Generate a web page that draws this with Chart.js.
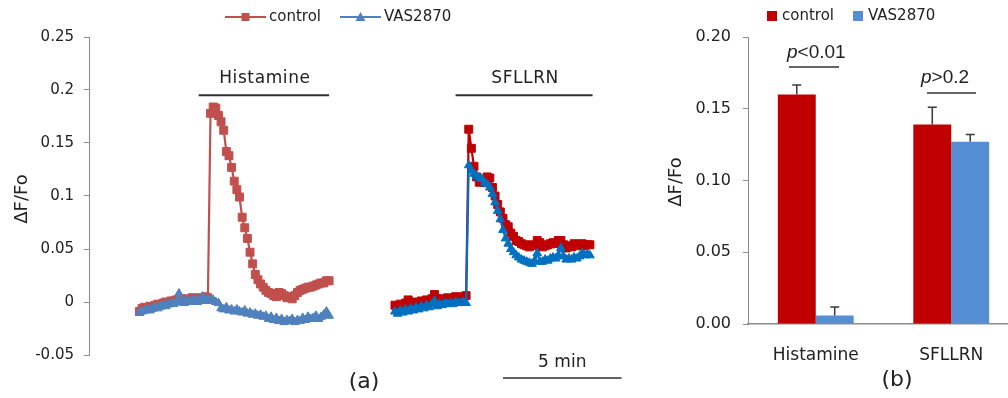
<!DOCTYPE html>
<html><head><meta charset="utf-8">
<script src="https://cdn.jsdelivr.net/npm/chart.js@4.4.1/dist/chart.umd.min.js"></script>
<style>
html,body{margin:0;padding:0;background:#fff;overflow:hidden;width:1008px;height:398px;}
#wrapA{position:absolute;left:0;top:0;width:640px;height:398px;}
#wrapB{position:absolute;left:640px;top:0;width:368px;height:398px;overflow:hidden;}
canvas{display:block;}
</style></head><body>
<div id="wrapA"><canvas id="cA" width="640" height="398"></canvas></div>
<div id="wrapB"><canvas id="cB" width="379" height="398"></canvas></div>
<script>
// ---------- DATA ----------
const seriesNames = ['control', 'VAS2870'];
// panel (a): ΔF/Fo traces, one sample per frame
const histStartFrame = 0;
const sflStartFrame = 97;
const histCtrl = [-0.009,-0.006,-0.005,-0.006,-0.004,-0.005,-0.003,-0.002,-0.003,-0.001,
 0.000,-0.001,0.001,0.001,0.002,0.001,0.003,0.002,0.003,0.002,
 0.004,0.003,0.003,0.004,0.003,0.005,0.004,0.178,0.184,0.183,
 0.176,0.170,0.162,0.142,0.138,0.127,0.114,0.106,0.099,0.080,
 0.070,0.060,0.047,0.036,0.026,0.021,0.017,0.014,0.011,0.009,
 0.008,0.006,0.005,0.009,0.008,0.006,0.004,0.005,0.003,0.006,
 0.009,0.011,0.012,0.013,0.014,0.014,0.015,0.016,0.017,0.018,
 0.018,0.020,0.020];
const histVas = [-0.010,-0.009,-0.008,-0.007,-0.008,-0.006,-0.005,-0.006,-0.004,-0.003,
 -0.004,-0.002,-0.001,-0.002,0.000,0.008,0.001,-0.001,0.002,0.000,
 0.001,0.003,0.000,0.002,0.005,0.001,0.003,0.001,0.002,0.000,
 -0.001,-0.006,-0.007,-0.005,-0.008,-0.007,-0.009,-0.007,-0.009,-0.010,
 -0.008,-0.011,-0.010,-0.012,-0.011,-0.013,-0.012,-0.014,-0.013,-0.016,
 -0.014,-0.017,-0.015,-0.018,-0.016,-0.019,-0.017,-0.018,-0.016,-0.019,
 -0.017,-0.018,-0.015,-0.017,-0.014,-0.016,-0.015,-0.013,-0.016,-0.014,
 -0.012,-0.009,-0.013];
const sflCtrl = [-0.003,-0.004,-0.002,-0.003,-0.001,0.002,-0.001,-0.002,0.000,-0.002,
 0.001,0.000,0.002,0.001,0.003,0.007,0.003,0.001,0.003,0.002,
 0.004,0.002,0.003,0.005,0.003,0.004,0.005,0.006,0.163,0.145,
 0.128,0.118,0.113,0.114,0.113,0.118,0.117,0.108,0.100,0.092,
 0.085,0.079,0.073,0.071,0.065,0.062,0.058,0.057,0.055,0.054,
 0.053,0.052,0.054,0.053,0.058,0.056,0.052,0.053,0.054,0.055,
 0.056,0.055,0.058,0.058,0.054,0.051,0.053,0.052,0.055,0.053,
 0.054,0.055,0.053,0.054,0.054];
const sflVas = [-0.009,-0.011,-0.008,-0.010,-0.007,-0.009,-0.006,-0.008,-0.005,-0.007,
 -0.004,-0.006,-0.003,-0.005,-0.002,0.001,-0.004,-0.002,-0.003,-0.001,
 -0.002,-0.001,-0.002,0.000,-0.001,-0.001,0.000,-0.001,0.129,0.124,
 0.121,0.119,0.117,0.116,0.113,0.111,0.108,0.102,0.094,0.086,
 0.078,0.068,0.060,0.055,0.050,0.047,0.044,0.042,0.040,0.039,
 0.038,0.037,0.036,0.039,0.046,0.038,0.038,0.040,0.039,0.041,
 0.042,0.041,0.044,0.051,0.043,0.040,0.041,0.040,0.042,0.041,
 0.043,0.046,0.044,0.045,0.044];
const yTicksA = [-0.05, 0, 0.05, 0.1, 0.15, 0.2, 0.25];
// panel (b): peak ΔF/Fo
const barCategories = ['Histamine', 'SFLLRN'];
const barCtrl = [0.160, 0.139];
const barCtrlErr = [0.0065, 0.012];
const barVas = [0.006, 0.127];
const barVasErr = [0.0058, 0.005];
const yTicksB = [0, 0.05, 0.10, 0.15, 0.20];
const pLabels = ['<0.01', '>0.2'];

// ---------- STYLE ----------
const FONT = "'DejaVu Sans', sans-serif";
const TXT = '#222222';
const AXIS = '#8c8c8c';
const C_HC = '#C0504D', C_HV = '#4F81BD', C_SC = '#C00000', C_SV = '#0070C0';

const frames = (start, arr) => arr.map((_, i) => start + i);
const pts = (fr, vals) => vals.map((v, i) => ({x: fr[i], y: v}));
function lineDs(label, fr, vals, color, style, r, order) {
  return {label, data: pts(fr, vals), borderColor: color, backgroundColor: color,
    borderWidth: 2.2, pointStyle: style, pointRadius: r, pointHoverRadius: r,
    pointBorderWidth: 1, pointBackgroundColor: color, pointBorderColor: color,
    tension: 0, order};
}
const fH = frames(histStartFrame, histCtrl), fS = frames(sflStartFrame, sflCtrl);

const annoA = {
  id: 'annoA',
  afterDraw(chart) {
    const {ctx, scales: {x, y}} = chart;
    ctx.save();
    ctx.fillStyle = TXT; ctx.strokeStyle = '#303030';
    ctx.textBaseline = 'middle';
    // stimulus bars
    ctx.lineWidth = 2;
    const bar = (f0, f1, label) => {
      const yl = y.getPixelForValue(0.195);
      ctx.beginPath(); ctx.moveTo(x.getPixelForValue(f0), yl); ctx.lineTo(x.getPixelForValue(f1), yl); ctx.stroke();
      ctx.font = '17px ' + FONT; ctx.textAlign = 'center';
      ctx.letterSpacing = '0.6px';
      ctx.fillText(label, (x.getPixelForValue(f0) + x.getPixelForValue(f1)) / 2 + 1, y.getPixelForValue(0.211));
      ctx.letterSpacing = '0px';
    };
    bar(22.5, 72, 'Histamine');
    bar(120, 172, 'SFLLRN');
    // 5 min scale bar (45 frames)
    ctx.lineWidth = 1.6;
    const ys = y.getPixelForValue(-0.0717);
    ctx.beginPath(); ctx.moveTo(x.getPixelForValue(138), ys); ctx.lineTo(x.getPixelForValue(183), ys); ctx.stroke();
    ctx.font = '17px ' + FONT; ctx.textAlign = 'center';
    ctx.fillText('5 min', x.getPixelForValue(160.5), y.getPixelForValue(-0.0575));
    // panel label
    ctx.font = '22px ' + FONT;
    ctx.fillText('(a)', 364, 382);
    // y title
    ctx.save(); ctx.translate(22, 199); ctx.rotate(-Math.PI / 2);
    ctx.font = '18px ' + FONT; ctx.fillText('ΔF/Fo', 0, 0); ctx.restore();
    // legend
    ctx.font = '15px ' + FONT; ctx.textAlign = 'left';
    ctx.lineWidth = 2.2;
    ctx.strokeStyle = C_HC; ctx.fillStyle = C_HC;
    ctx.beginPath(); ctx.moveTo(225, 17); ctx.lineTo(266, 17); ctx.stroke();
    ctx.fillRect(241.5, 13, 8, 8);
    ctx.strokeStyle = C_HV; ctx.fillStyle = C_HV;
    ctx.beginPath(); ctx.moveTo(340, 17); ctx.lineTo(381, 17); ctx.stroke();
    ctx.beginPath(); ctx.moveTo(360.5, 12); ctx.lineTo(365.5, 21); ctx.lineTo(355.5, 21); ctx.closePath(); ctx.fill();
    ctx.fillStyle = TXT;
    ctx.fillText(seriesNames[0], 269, 17);
    ctx.fillText(seriesNames[1], 384, 17);
    ctx.restore();
  }
};

new Chart(document.getElementById('cA'), {
  type: 'line',
  data: {datasets: [
    lineDs(seriesNames[0], fH, histCtrl, C_HC, 'rect', 5.6, 1),
    lineDs(seriesNames[1], fH, histVas, C_HV, 'triangle', 5, 0),
    lineDs(seriesNames[0], fS, sflCtrl, C_SC, 'rect', 5.6, 1),
    lineDs(seriesNames[1], fS, sflVas, C_SV, 'triangle', 5, 0)
  ]},
  options: {
    responsive: false, animation: false, events: [],
    layout: {padding: {left: 0, right: 0, top: 37, bottom: 43}},
    plugins: {legend: {display: false}, tooltip: {enabled: false}},
    scales: {
      x: {type: 'linear', display: false, min: -19.125, max: 187.5},
      y: {min: yTicksA[0], max: yTicksA[yTicksA.length - 1],
        afterFit(s) { s.width = 89; },
        afterBuildTicks(s) { s.ticks = yTicksA.map(v => ({value: v})); },
        ticks: {padding: 10, color: TXT, font: {family: FONT, size: 15},
          callback: v => String(+Number(v).toFixed(2))},
        grid: {drawOnChartArea: false, drawTicks: true, tickLength: 5, color: AXIS},
        border: {display: true, color: AXIS, width: 1}}
    }
  },
  plugins: [annoA]
});

// ---------- panel (b) ----------
const annoB = {
  id: 'annoB',
  afterDatasetsDraw(chart) {
    const {ctx, scales: {y}} = chart;
    const errs = [barCtrlErr, barVasErr];
    ctx.save();
    ctx.strokeStyle = '#3a3a3a'; ctx.lineWidth = 1.5;
    chart.data.datasets.forEach((ds, di) => {
      chart.getDatasetMeta(di).data.forEach((el, i) => {
        const top = y.getPixelForValue(ds.data[i] + errs[di][i]);
        ctx.beginPath();
        ctx.moveTo(el.x, el.y); ctx.lineTo(el.x, top);
        ctx.moveTo(el.x - 4.5, top); ctx.lineTo(el.x + 4.5, top);
        ctx.stroke();
      });
    });
    ctx.restore();
  },
  afterDraw(chart) {
    const {ctx} = chart;
    ctx.save();
    ctx.fillStyle = TXT; ctx.textBaseline = 'middle';
    // legend
    ctx.fillStyle = '#C00000'; ctx.fillRect(127, 11, 10, 10);
    ctx.fillStyle = '#558ED5'; ctx.fillRect(213, 11, 10, 10);
    ctx.fillStyle = TXT; ctx.font = '15px ' + FONT; ctx.textAlign = 'left';
    ctx.fillText(seriesNames[0], 142, 16);
    ctx.fillText(seriesNames[1], 228, 16);
    // p values
    const pv = (xL, yT, txt, l0, l1, yLine) => {
      ctx.font = 'italic 19px "Liberation Sans", Arial, sans-serif';
      ctx.fillText('p', xL, yT);
      const w = ctx.measureText('p').width;
      ctx.font = '19px "Liberation Sans", Arial, sans-serif';
      ctx.fillText(txt, xL + w, yT);
      ctx.strokeStyle = '#303030'; ctx.lineWidth = 1.6;
      ctx.beginPath(); ctx.moveTo(l0, yLine); ctx.lineTo(l1, yLine); ctx.stroke();
    };
    pv(147, 53, pLabels[0], 149, 199, 67);
    pv(281, 78, pLabels[1], 287, 336, 93);
    // panel label
    ctx.font = '22px ' + FONT; ctx.textAlign = 'center';
    ctx.fillText('(b)', 257, 380);
    // y title
    ctx.save(); ctx.translate(36, 182); ctx.rotate(-Math.PI / 2);
    ctx.font = '18px ' + FONT; ctx.fillText('ΔF/Fo', 0, 0); ctx.restore();
    ctx.restore();
  }
};

new Chart(document.getElementById('cB'), {
  type: 'bar',
  data: {labels: barCategories, datasets: [
    {label: seriesNames[0], data: barCtrl, backgroundColor: '#C00000', borderWidth: 0, categoryPercentage: 0.56, barPercentage: 1},
    {label: seriesNames[1], data: barVas, backgroundColor: '#558ED5', borderWidth: 0, categoryPercentage: 0.56, barPercentage: 1}
  ]},
  options: {
    responsive: false, animation: false, events: [],
    layout: {padding: {left: 0, right: 0, top: 37, bottom: 0}},
    plugins: {legend: {display: false}, tooltip: {enabled: false}},
    scales: {
      x: {afterFit(s) { s.height = 74; },
        grid: {drawOnChartArea: false, drawTicks: false},
        border: {display: true, color: AXIS, width: 1.5},
        ticks: {padding: 21, color: TXT, font: {family: FONT, size: 17}}},
      y: {min: 0, max: 0.2,
        afterFit(s) { s.width = 108; },
        afterBuildTicks(s) { s.ticks = yTicksB.map(v => ({value: v})); },
        ticks: {padding: 12, color: TXT, font: {family: FONT, size: 16},
          callback: v => Number(v).toFixed(2)},
        grid: {drawOnChartArea: false, drawTicks: true, tickLength: 5, color: AXIS},
        border: {display: true, color: AXIS, width: 1}}
    }
  },
  plugins: [annoB]
});
</script></body></html>
